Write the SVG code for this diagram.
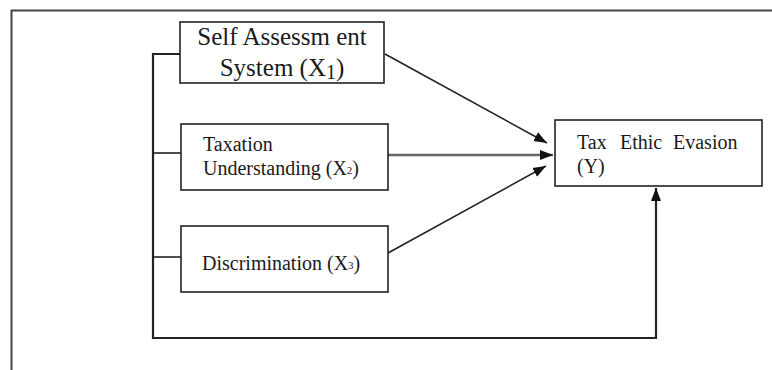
<svg xmlns="http://www.w3.org/2000/svg" width="772" height="370" viewBox="0 0 772 370">
<style>
.box{fill:#fff;stroke:#222;stroke-width:1.6}
.t{font-family:"Liberation Serif","Times New Roman",serif;fill:#1a1a1a}
.ln{fill:none;stroke:#222;stroke-width:1.6}
.bus{fill:none;stroke:#222;stroke-width:2.2}
</style>
<defs>
<marker id="ah" markerUnits="userSpaceOnUse" markerWidth="15" markerHeight="13" viewBox="0 0 15 13" refX="13" refY="6.5" orient="auto">
<path d="M0,1.5 L13,6.5 L0,11.5 Z" fill="#111"/>
</marker>
</defs>
<g id="frame">
<path d="M772,10.5 H11.5 V370" fill="none" stroke="#444" stroke-width="2"/>
</g>
<g id="connectors">
<path class="bus" d="M180,54 H153 V338 H656 V188" marker-end="url(#ah)"/>
<path class="ln" d="M153,153 H181"/>
<path class="ln" d="M153,257 H181"/>
<path class="ln" d="M385,54 L547,143" marker-end="url(#ah)"/>
<path d="M388,155 L553,155" fill="none" stroke="#666" stroke-width="2.4" marker-end="url(#ah)"/>
<path class="ln" d="M388,253 L546,166" marker-end="url(#ah)"/>
</g>
<g id="x1">
<rect class="box" x="180" y="22" width="204" height="61" stroke-width="2"/>
<text class="t" x="282" y="45" font-size="25" text-anchor="middle">Self Assessm ent</text>
<text class="t" x="282" y="76" font-size="25" text-anchor="middle">System (X<tspan dy="3" font-size="20">1</tspan><tspan dy="-3">)</tspan></text>
</g>
<g id="x2">
<rect class="box" x="181" y="124" width="207" height="66"/>
<text class="t" x="203" y="151" font-size="20">Taxation</text>
<text class="t" x="203" y="175" font-size="20">Understanding (X<tspan font-size="11" dy="-1">2</tspan><tspan dy="1">)</tspan></text>
</g>
<g id="x3">
<rect class="box" x="181" y="226" width="207" height="66"/>
<text class="t" x="202" y="270" font-size="20">Discrimination (X<tspan font-size="11" dy="-1">3</tspan><tspan dy="1">)</tspan></text>
</g>
<g id="y">
<rect class="box" x="555" y="120" width="207" height="66" stroke-width="2"/>
<text class="t" x="577" y="149" font-size="20">Tax</text>
<text class="t" x="620" y="149" font-size="20">Ethic</text>
<text class="t" x="673" y="149" font-size="20">Evasion</text>
<text class="t" x="577" y="173" font-size="20">(Y)</text>
</g>
</svg>
